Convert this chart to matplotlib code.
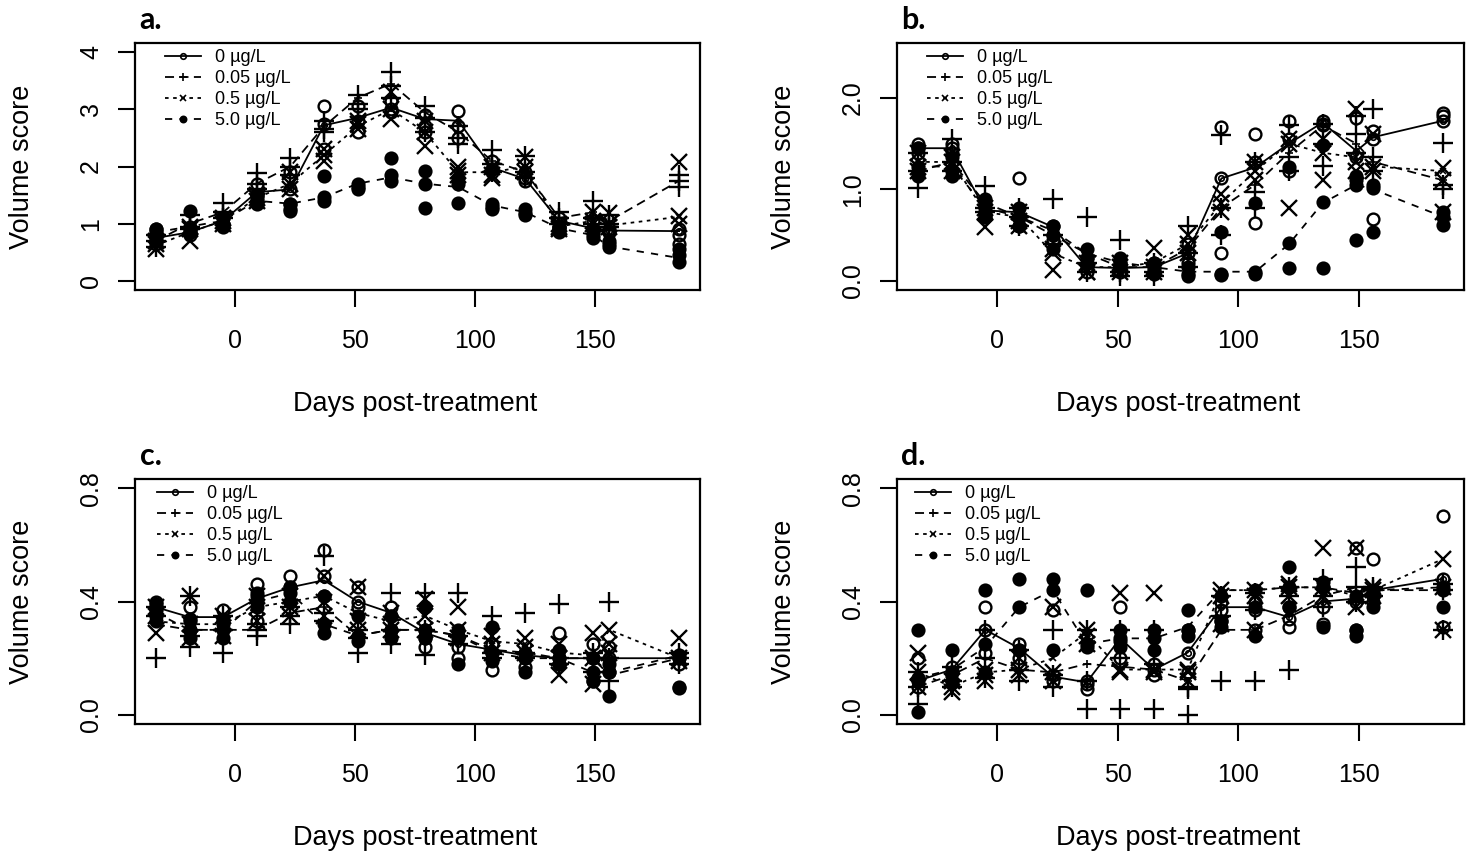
import numpy as np
import matplotlib
matplotlib.use("Agg")
import matplotlib.pyplot as plt
from matplotlib.lines import Line2D

plt.rcParams['font.family'] = ['Liberation Sans', 'DejaVu Sans']

# ---------------- data ----------------
days = [-33, -19, -5, 9, 23, 37, 51, 65, 79, 93, 107, 121, 135, 149, 156, 185]
treatments = ["0 µg/L", "0.05 µg/L", "0.5 µg/L", "5.0 µg/L"]

# Panel a
a_mean_0 = [0.75, 0.85, 1.05, 1.55, 1.6, 2.72, 2.85, 3.03, 2.83, 2.8, 1.98, 1.78, 1.05, 0.92, 0.88, 0.87]
a_reps_0 = [(0.9, 0.7, 0.65), (0.95, 0.85, 0.8), (1.1, 1.0, 1.0), (1.7, 1.5, 1.45), (1.9, 1.6, 1.35),
            (3.05, 2.75, 2.3), (3.05, 2.8, 2.6), (3.15, 3.0, 2.95), (2.9, 2.7, 2.6), (2.97, 2.7, 2.5),
            (2.1, 1.95, 1.9), (1.9, 1.8, 1.75), (1.1, 0.95, 0.95), (1.05, 0.9, 0.9), (0.9, 0.85, 0.85),
            (0.9, 0.8, 0.65)]
a_mean_005 = [0.7, 1.0, 1.2, 1.7, 2.0, 2.7, 3.2, 3.45, 2.95, 2.6, 2.1, 1.9, 1.1, 1.2, 1.05, 1.75]
a_reps_005 = [(0.8, 0.7, 0.6), (1.15, 0.95, 0.9), (1.36, 1.2, 1.1), (1.88, 1.7, 1.6), (2.15, 2.0, 1.85),
              (2.8, 2.65, 2.6), (3.25, 3.1, 3.0), (3.65, 3.4, 3.2), (3.06, 2.85, 2.6), (2.7, 2.5, 2.4),
              (2.28, 2.05, 1.9), (2.19, 1.9, 1.8), (1.2, 1.1, 1.0), (1.4, 1.1, 1.0), (1.15, 1.0, 0.95),
              (1.85, 1.75, 1.65)]
a_mean_05 = [0.62, 0.85, 1.05, 1.45, 1.7, 2.2, 2.7, 3.0, 2.6, 1.9, 1.9, 2.0, 0.95, 1.05, 0.97, 1.12]
a_reps_05 = [(0.7, 0.65, 0.55), (0.95, 0.9, 0.7), (1.1, 1.05, 1.0), (1.5, 1.45, 1.4), (1.9, 1.7, 1.6),
             (2.3, 2.2, 2.1), (2.8, 2.75, 2.66), (3.3, 3.0, 2.83), (2.8, 2.6, 2.36), (2.0, 1.93, 1.85),
             (2.0, 1.85, 1.8), (2.16, 2.0, 1.9), (1.0, 0.95, 0.9), (1.2, 1.05, 1.0), (1.18, 1.0, 0.95),
             (2.07, 1.13, 1.0)]
a_mean_5 = [0.85, 0.95, 1.05, 1.4, 1.35, 1.46, 1.7, 1.81, 1.7, 1.64, 1.32, 1.2, 0.92, 0.8, 0.6, 0.4]
a_reps_5 = [(0.9, 0.85, 0.75), (1.23, 0.9, 0.85), (1.1, 1.0, 0.95), (1.5, 1.4, 1.35), (1.35, 1.25, 1.23),
            (1.84, 1.46, 1.4), (1.7, 1.65, 1.6), (2.14, 1.85, 1.75), (1.93, 1.7, 1.27), (1.8, 1.7, 1.37),
            (1.35, 1.3, 1.25), (1.25, 1.18, 1.15), (0.95, 0.9, 0.85), (0.85, 0.8, 0.75), (0.7, 0.65, 0.6),
            (0.55, 0.45, 0.33)]

# Panel b
b_mean_0 = [1.45, 1.45, 0.77, 0.75, 0.59, 0.15, 0.14, 0.15, 0.3, 1.12, 1.24, 1.5, 1.73, 1.42, 1.57, 1.75]
b_reps_0 = [(1.5, 1.45, 1.4), (1.5, 1.45, 1.4), (0.85, 0.75, 0.7), (1.12, 0.7, 0.6), (0.6, 0.5, 0.45),
            (0.25, 0.15, 0.1), (0.2, 0.15, 0.1), (0.2, 0.15, 0.12), (0.4, 0.3, 0.2), (1.68, 1.12, 0.3),
            (1.61, 1.3, 0.63), (1.75, 1.55, 1.2), (1.75, 1.72, 1.7), (1.78, 1.35, 1.1), (1.64, 1.55, 0.68),
            (1.84, 1.8, 1.75)]
b_mean_005 = [1.2, 1.3, 0.85, 0.7, 0.5, 0.3, 0.15, 0.15, 0.35, 0.8, 1.05, 1.4, 1.7, 1.5, 1.3, 1.1]
b_reps_005 = [(1.4, 1.2, 1.01), (1.55, 1.3, 1.2), (1.04, 0.8, 0.75), (0.8, 0.7, 0.6), (0.9, 0.5, 0.4),
              (0.7, 0.2, 0.1), (0.45, 0.1, 0.05), (0.2, 0.1, 0.05), (0.6, 0.3, 0.15), (1.59, 0.8, 0.5),
              (1.3, 0.97, 0.8), (1.7, 1.35, 1.2), (1.72, 1.5, 1.26), (1.8, 1.6, 1.4), (1.88, 1.35, 1.2),
              (1.51, 1.05, 1.0)]
b_mean_05 = [1.3, 1.3, 0.75, 0.7, 0.3, 0.15, 0.15, 0.2, 0.4, 0.85, 1.2, 1.5, 1.4, 1.35, 1.25, 1.2]
b_reps_05 = [(1.4, 1.25, 1.2), (1.35, 1.3, 1.2), (0.8, 0.75, 0.59), (0.75, 0.65, 0.6), (0.35, 0.3, 0.12),
             (0.2, 0.1, 0.1), (0.2, 0.15, 0.1), (0.36, 0.15, 0.1), (0.5, 0.4, 0.3), (0.95, 0.85, 0.75),
             (1.3, 1.2, 1.1), (1.55, 1.5, 0.8), (1.55, 1.4, 1.1), (1.88, 1.3, 1.2), (1.6, 1.25, 1.2),
             (1.23, 1.1, 0.75)]
b_mean_5 = [1.25, 1.25, 0.8, 0.7, 0.55, 0.3, 0.2, 0.15, 0.1, 0.1, 0.1, 0.4, 0.85, 1.05, 1.0, 0.7]
b_reps_5 = [(1.45, 1.25, 1.15), (1.35, 1.2, 1.15), (0.9, 0.8, 0.7), (0.8, 0.7, 0.6), (0.6, 0.5, 0.35),
            (0.35, 0.25, 0.2), (0.25, 0.2, 0.15), (0.2, 0.1, 0.08), (0.15, 0.08, 0.05), (0.53, 0.08, 0.06),
            (0.85, 0.1, 0.08), (1.24, 0.41, 0.14), (1.48, 0.86, 0.14), (1.15, 1.05, 0.45), (1.05, 1.01, 0.53),
            (0.75, 0.7, 0.61)]

# Panel c
c_mean_0 = [0.38, 0.345, 0.345, 0.41, 0.45, 0.475, 0.40, 0.36, 0.29, 0.25, 0.23, 0.21, 0.2, 0.2, 0.2, 0.2]
c_reps_0 = [(0.4, 0.38, 0.35), (0.38, 0.34, 0.3), (0.37, 0.34, 0.32), (0.46, 0.42, 0.33), (0.49, 0.45, 0.4),
            (0.58, 0.49, 0.42), (0.45, 0.4, 0.38), (0.38, 0.35, 0.3), (0.3, 0.27, 0.24), (0.28, 0.24, 0.2),
            (0.25, 0.22, 0.16), (0.22, 0.2, 0.17), (0.29, 0.2, 0.18), (0.25, 0.2, 0.12), (0.24, 0.2, 0.15),
            (0.2, 0.18, 0.1)]
c_mean_005 = [0.32, 0.3, 0.3, 0.3, 0.36, 0.38, 0.28, 0.3, 0.3, 0.28, 0.23, 0.22, 0.2, 0.2, 0.14, 0.2]
c_reps_005 = [(0.38, 0.35, 0.2), (0.42, 0.28, 0.24), (0.35, 0.3, 0.22), (0.32, 0.3, 0.28), (0.38, 0.35, 0.32),
              (0.56, 0.36, 0.33), (0.3, 0.27, 0.22), (0.43, 0.3, 0.25), (0.43, 0.3, 0.21), (0.43, 0.28, 0.25),
              (0.35, 0.22, 0.2), (0.36, 0.22, 0.2), (0.39, 0.2, 0.18), (0.22, 0.2, 0.15), (0.4, 0.2, 0.12),
              (0.22, 0.2, 0.18)]
c_mean_05 = [0.33, 0.32, 0.32, 0.38, 0.4, 0.42, 0.36, 0.33, 0.35, 0.3, 0.26, 0.25, 0.22, 0.21, 0.3, 0.2]
c_reps_05 = [(0.38, 0.35, 0.29), (0.42, 0.32, 0.27), (0.35, 0.32, 0.28), (0.42, 0.38, 0.33), (0.42, 0.38, 0.35),
             (0.49, 0.4, 0.35), (0.45, 0.33, 0.3), (0.36, 0.32, 0.3), (0.41, 0.35, 0.3), (0.38, 0.3, 0.27),
             (0.28, 0.25, 0.22), (0.27, 0.24, 0.22), (0.25, 0.2, 0.14), (0.29, 0.2, 0.11), (0.3, 0.25, 0.22),
             (0.27, 0.2, 0.19)]
c_mean_5 = [0.36, 0.3, 0.3, 0.4, 0.43, 0.32, 0.28, 0.3, 0.3, 0.28, 0.22, 0.2, 0.2, 0.15, 0.15, 0.21]
c_reps_5 = [(0.39, 0.37, 0.33), (0.33, 0.3, 0.27), (0.33, 0.3, 0.27), (0.43, 0.4, 0.38), (0.45, 0.43, 0.4),
            (0.42, 0.32, 0.29), (0.35, 0.28, 0.26), (0.35, 0.3, 0.27), (0.38, 0.3, 0.27), (0.3, 0.27, 0.18),
            (0.31, 0.22, 0.19), (0.22, 0.2, 0.15), (0.23, 0.2, 0.18), (0.2, 0.15, 0.12), (0.18, 0.15, 0.065),
            (0.21, 0.2, 0.095)]

# Panel d
d_mean_0 = [0.12, 0.16, 0.3, 0.235, 0.135, 0.115, 0.27, 0.16, 0.22, 0.38, 0.38, 0.345, 0.40, 0.41, 0.44, 0.48]
d_reps_0 = [(0.2, 0.12, 0.1), (0.17, 0.15, 0.12), (0.38, 0.3, 0.22), (0.25, 0.23, 0.2), (0.37, 0.14, 0.12),
            (0.12, 0.11, 0.09), (0.38, 0.26, 0.2), (0.18, 0.16, 0.14), (0.3, 0.22, 0.15), (0.4, 0.37, 0.33),
            (0.4, 0.37, 0.3), (0.38, 0.34, 0.31), (0.45, 0.38, 0.32), (0.59, 0.4, 0.3), (0.55, 0.43, 0.4),
            (0.7, 0.48, 0.31)]
d_mean_005 = [0.1, 0.14, 0.2, 0.16, 0.15, 0.18, 0.17, 0.16, 0.12, 0.3, 0.3, 0.35, 0.42, 0.45, 0.44, 0.44]
d_reps_005 = [(0.15, 0.1, 0.04), (0.17, 0.12, 0.1), (0.3, 0.2, 0.13), (0.23, 0.16, 0.12), (0.3, 0.14, 0.1),
              (0.3, 0.12, 0.02), (0.3, 0.2, 0.02), (0.3, 0.18, 0.02), (0.1, 0.09, 0.0), (0.42, 0.35, 0.12),
              (0.43, 0.37, 0.12), (0.45, 0.42, 0.16), (0.48, 0.42, 0.38), (0.52, 0.45, 0.4), (0.45, 0.44, 0.42),
              (0.46, 0.44, 0.3)]
d_mean_05 = [0.15, 0.1, 0.15, 0.16, 0.2, 0.29, 0.16, 0.16, 0.16, 0.44, 0.44, 0.45, 0.45, 0.42, 0.44, 0.55]
d_reps_05 = [(0.22, 0.15, 0.1), (0.12, 0.1, 0.08), (0.16, 0.14, 0.12), (0.2, 0.16, 0.14), (0.38, 0.15, 0.12),
             (0.3, 0.28, 0.25), (0.43, 0.16, 0.15), (0.43, 0.16, 0.15), (0.16, 0.15, 0.12), (0.44, 0.42, 0.32),
             (0.44, 0.42, 0.3), (0.46, 0.45, 0.42), (0.59, 0.45, 0.42), (0.59, 0.42, 0.38), (0.45, 0.44, 0.42),
             (0.55, 0.45, 0.3)]
d_mean_5 = [0.13, 0.16, 0.24, 0.38, 0.44, 0.25, 0.27, 0.27, 0.31, 0.44, 0.44, 0.45, 0.45, 0.43, 0.44, 0.45]
d_reps_5 = [(0.3, 0.13, 0.01), (0.23, 0.15, 0.12), (0.44, 0.25, 0.15), (0.48, 0.38, 0.23), (0.48, 0.44, 0.23),
            (0.44, 0.25, 0.24), (0.3, 0.27, 0.24), (0.3, 0.27, 0.23), (0.37, 0.3, 0.28), (0.42, 0.33, 0.31),
            (0.44, 0.38, 0.28), (0.52, 0.45, 0.38), (0.47, 0.45, 0.31), (0.42, 0.3, 0.28), (0.44, 0.42, 0.38),
            (0.45, 0.44, 0.38)]

x_ticks = [0, 50, 100, 150]
y_ticks = {"a": [0, 1, 2, 3, 4], "b": [0.0, 1.0, 2.0], "c": [0.0, 0.4, 0.8], "d": [0.0, 0.4, 0.8]}
y_ticklabels = {"a": ["0", "1", "2", "3", "4"], "b": ["0.0", "1.0", "2.0"],
                "c": ["0.0", "0.4", "0.8"], "d": ["0.0", "0.4", "0.8"]}
y_ranges = {"a": (0, 4), "b": (0, 2.5), "c": (0, 0.8), "d": (0, 0.8)}

panels = {
    "a": [(a_mean_0, a_reps_0), (a_mean_005, a_reps_005), (a_mean_05, a_reps_05), (a_mean_5, a_reps_5)],
    "b": [(b_mean_0, b_reps_0), (b_mean_005, b_reps_005), (b_mean_05, b_reps_05), (b_mean_5, b_reps_5)],
    "c": [(c_mean_0, c_reps_0), (c_mean_005, c_reps_005), (c_mean_05, c_reps_05), (c_mean_5, c_reps_5)],
    "d": [(d_mean_0, d_reps_0), (d_mean_005, d_reps_005), (d_mean_05, d_reps_05), (d_mean_5, d_reps_5)],
}

# ---------------- style ----------------
W, H = 1472, 856
fig = plt.figure(figsize=(W / 100, H / 100), dpi=100)
fig.patch.set_facecolor("white")

boxes = {"a": (135, 43, 700, 290), "b": (897, 43, 1464, 290),
         "c": (135, 479, 700, 724), "d": (897, 479, 1464, 724)}
legend_x = {"a": 165, "b": 927, "c": 157, "d": 915}

line_styles = ["-", (0, (5, 3)), (0, (2, 2.5)), (0, (4, 4))]
markers = ["o", "+", "x", "o"]
rep_sizes = [8.5, 14.5, 11, 8.5]
mean_sizes = [4, 6, 5, 4.5]
fills = ["none", "k", "k", "k"]

x_min, x_max = min(days), max(days)
xr = x_max - x_min

for key, (l, t, r, b) in boxes.items():
    ax = fig.add_axes([l / W, 1 - b / H, (r - l) / W, (b - t) / H])
    ax.set_xlim(x_min - 0.04 * xr, x_max + 0.04 * xr)
    y0, y1 = y_ranges[key]
    yr = y1 - y0
    ax.set_ylim(y0 - 0.04 * yr, y1 + 0.04 * yr)

    for i, (mean, reps) in enumerate(panels[key]):
        reps_arr = np.array(reps)
        ax.plot(days, mean, color="k", lw=1.3, ls=line_styles[i], marker=markers[i],
                ms=mean_sizes[i], mfc=fills[i], mec="k", mew=1.2, zorder=2)
        for j in range(reps_arr.shape[1]):
            ax.plot(days, reps_arr[:, j], ls="none", marker=markers[i], ms=rep_sizes[i],
                    mfc=fills[i], mec="k", mew=1.7, zorder=3)

    ax.set_xticks(x_ticks)
    ax.set_xticklabels([str(v) for v in x_ticks])
    ax.set_yticks(y_ticks[key])
    ax.set_yticklabels(y_ticklabels[key])
    ax.tick_params(direction="out", length=12, width=1.5, labelsize=18, pad=16)
    ax.tick_params(axis="y", labelrotation=90, pad=11)
    for lab in ax.get_yticklabels():
        lab.set_va("center")
    for s in ax.spines.values():
        s.set_linewidth(1.6)

    handles = [Line2D([], [], color="k", lw=1.3, ls=line_styles[i], marker=markers[i],
                      ms=mean_sizes[i], mfc=fills[i], mec="k", mew=1.2) for i in range(4)]
    lx = (legend_x[key] - l) / (r - l)
    ax.legend(handles, treatments, loc="upper left", bbox_to_anchor=(lx, 0.975),
              frameon=False, fontsize=13, handlelength=2.0, handletextpad=0.75,
              labelspacing=0.22, borderpad=0, borderaxespad=0)

    # axis labels
    fig.text((l - 113) / W, 1 - ((t + b) / 2) / H, "Volume score", rotation=90,
             ha="center", va="center", fontsize=19.5)
    fig.text(((l + r) / 2 - 2) / W, 1 - (b + 114) / H, "Days post-treatment",
             ha="center", va="center", fontsize=19.5)
    # panel letters
    fig.text((l + 16) / W, 1 - (t - 23) / H, key + ".", ha="center", va="center",
             fontsize=22, fontweight="bold", family=["Lato", "DejaVu Sans"])

fig.savefig("out.png", dpi=100, facecolor="white")
